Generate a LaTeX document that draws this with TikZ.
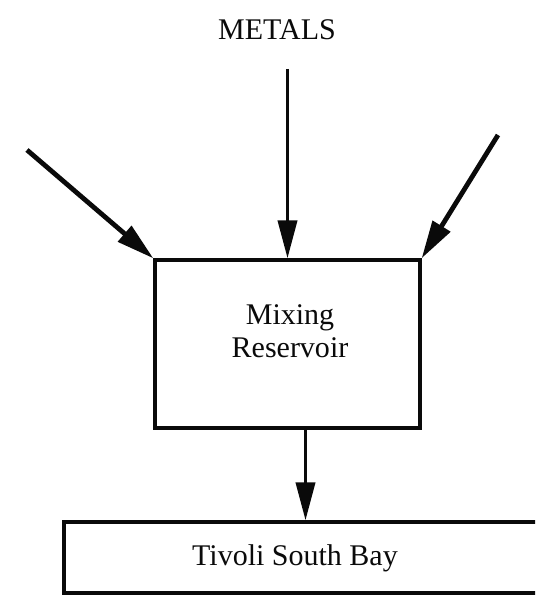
\documentclass[tikz,border=0pt]{standalone}
\usepackage{fontspec}
\setmainfont{Liberation Serif}
\usepackage{tikz}
\usetikzlibrary{arrows.meta,calc,positioning}
\definecolor{ink}{HTML}{0A0A0A}
\tikzset{
  boxline/.style={draw=ink,line width=3.2pt,inner sep=0pt},
  lbl/.style={font=\fontsize{30}{33}\selectfont,text=ink,inner sep=0pt},
  flow/.style={-{Triangle[length=38pt,width=19pt]},draw=ink,line width=3.8pt},
  inflow/.style={-{Triangle[length=38pt,width=20pt]},draw=ink,line width=4.8pt}
}
\begin{document}
\begin{tikzpicture}[x=1pt,y=-1pt]
  \clip (0,0) rectangle (535,601); \useasboundingbox (0,0) rectangle (535,601);
  \node[lbl,anchor=base] (metals) at (277,40) {METALS};
  \node[boxline,minimum width=265pt,minimum height=168pt] (mix) at (287.5,344) {};
  \node[lbl,anchor=north,align=center] (mixlabel) at (290,304.5) {Mixing\\Reservoir};
  \node[boxline,minimum width=481pt,minimum height=71pt] (bay) at (304.5,557.5) {};
  \node[lbl,anchor=base] (baylabel) at (295,565) {Tivoli South Bay};
  \coordinate (srcmid) at (mix.north |- 0,69);
  \coordinate (srcleft) at (27,150);
  \coordinate (srcright) at (498,135);
  \draw[flow] (srcmid) -- (mix.north);
  \draw[inflow] (srcleft) -- (mix.north west);
  \draw[inflow] (srcright) -- (mix.north east);
  \draw[flow] ([xshift=18pt]mix.south) -- ([xshift=18pt]mix.south |- bay.north);
\end{tikzpicture}
\end{document}
